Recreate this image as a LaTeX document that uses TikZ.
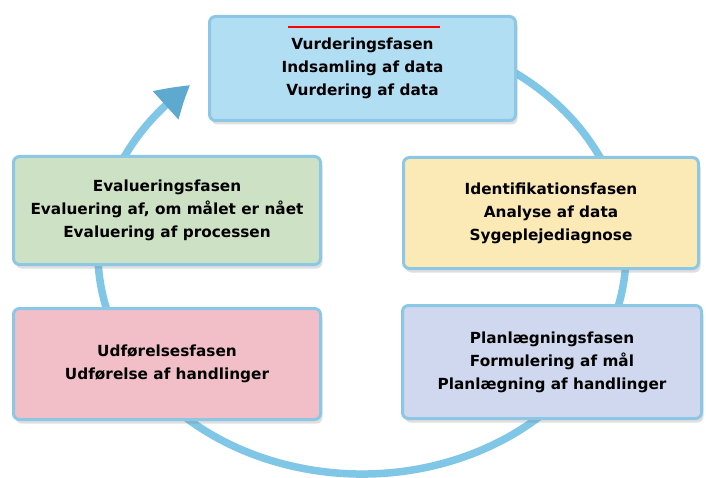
\documentclass[tikz,border=0pt]{standalone}
\usepackage{fontspec}
\setmainfont{DejaVu Sans}
\usetikzlibrary{arrows.meta,shadows,bending}
\definecolor{rim}{HTML}{8CC8E6}
\definecolor{ringc}{HTML}{80C6E6}
\definecolor{tipc}{HTML}{5EA9D0}
\definecolor{fillA}{HTML}{B2DEF4}
\definecolor{fillB}{HTML}{CDE2C4}
\definecolor{fillC}{HTML}{FBE9B6}
\definecolor{fillD}{HTML}{F2BEC8}
\definecolor{fillE}{HTML}{CFD8EE}
\tikzset{
  phase/.style={draw=rim, line width=3pt, rounded corners=6pt, align=center,
    font=\fontsize{15.3}{23}\selectfont\bfseries, text=black,
    drop shadow={opacity=0.25, shadow xshift=2pt, shadow yshift=-4pt}},
  ring/.style={draw=ringc, line width=7.5pt},
  redline/.style={draw=red, line width=1.6pt}
}
\begin{document}
\begin{tikzpicture}[x=1pt,y=1pt]
\useasboundingbox (0,0) rectangle (706,477);
\fill[white] (0,0) rectangle (706,477);
\coordinate (ctr) at (362,224);
\draw[ring, -{Triangle[length=32pt,width=36pt,bend,color=tipc]}]
  (ctr) ++(75:264 and 221) arc[start angle=75, end angle=-229.4, x radius=264, y radius=221];
\node[phase, fill=fillA, minimum width=306pt, minimum height=104pt] (top) at (362.5,408.5)
  {Vurderingsfasen\\Indsamling af data\\Vurdering af data};
\node[phase, fill=fillB, minimum width=307pt, minimum height=108pt] (eval) at (167,266.5)
  {Evalueringsfasen\\Evaluering af, om målet er nået\\Evaluering af processen};
\node[phase, fill=fillC, minimum width=295pt, minimum height=111pt] (ident) at (551,264)
  {Identifikationsfasen\\Analyse af data\\Sygeplejediagnose};
\node[phase, fill=fillD, minimum width=307pt, minimum height=111pt] (udf) at (167,113)
  {Udførelsesfasen\\Udførelse af handlinger};
\node[phase, fill=fillE, minimum width=299pt, minimum height=113pt] (plan) at (552,115)
  {Planlægningsfasen\\Formulering af mål\\Planlægning af handlinger};
\coordinate (r1) at (288,450);
\coordinate (r2) at (440,450);
\draw[redline] (r1) -- (r2);
\end{tikzpicture}
\end{document}
